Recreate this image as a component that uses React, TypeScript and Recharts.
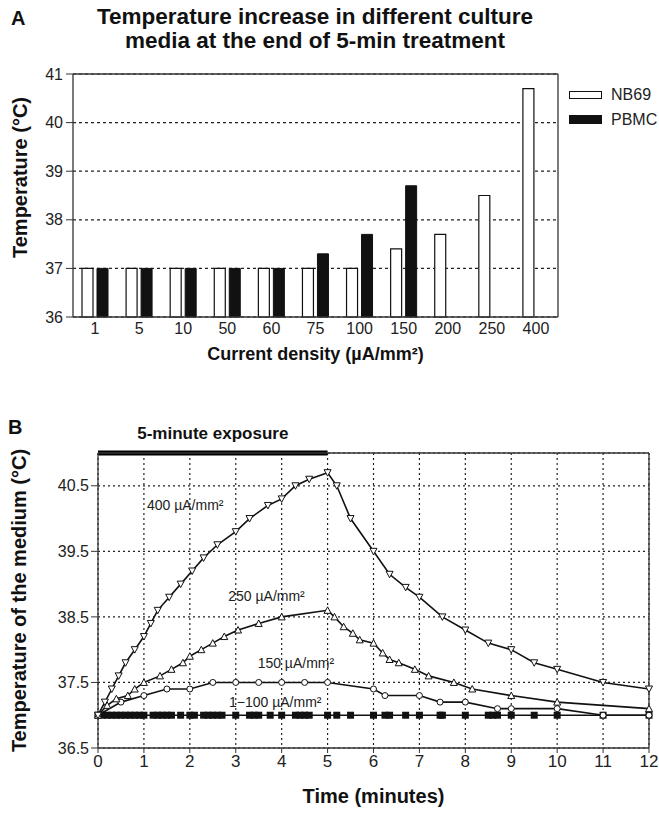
import React from "react";
import {
  BarChart,
  Bar,
  LineChart,
  Line,
  XAxis,
  YAxis,
  CartesianGrid,
  ReferenceLine,
  ReferenceDot,
  Legend,
  Label
} from "recharts";

const FONT = '"Liberation Sans", Arial, Helvetica, sans-serif';

// ---- panel A: temperature at the end of treatment ----
const densities = ["1", "5", "10", "50", "60", "75", "100", "150", "200", "250", "400"];
const nb69 = [37, 37, 37, 37, 37, 37, 37, 37.4, 37.7, 38.5, 40.7];
const pbmc = [37, 37, 37, 37, 37, 37.3, 37.7, 38.7, null, null, null];
const tempTicks = [36, 37, 38, 39, 40, 41];

// ---- panel B: temperature of the medium over time ----
const minutes = [0, 1, 2, 3, 4, 5, 6, 7, 8, 9, 10, 11, 12];
const mediumTicks = [36.5, 37.5, 38.5, 39.5, 40.5];

const time400 = [0, 0.15, 0.3, 0.45, 0.6, 0.8, 1.0, 1.15, 1.3, 1.55, 1.8, 2.05, 2.3, 2.6, 3.0, 3.3, 3.7, 4.0, 4.3, 4.6, 5.0, 5.2, 5.5, 6.0, 6.35, 6.7, 7.0, 7.5, 8.0, 8.5, 9.0, 9.5, 10.0, 11.0, 12.0];
const temp400 = [37.0, 37.2, 37.4, 37.6, 37.8, 38.0, 38.2, 38.4, 38.6, 38.8, 39.0, 39.2, 39.4, 39.6, 39.8, 40.0, 40.2, 40.3, 40.5, 40.6, 40.7, 40.5, 40.0, 39.5, 39.15, 38.95, 38.8, 38.5, 38.3, 38.1, 38.0, 37.8, 37.7, 37.5, 37.4];

const time250 = [0, 0.2, 0.4, 0.65, 0.8, 1.0, 1.35, 1.6, 1.85, 2.0, 2.25, 2.5, 2.75, 3.05, 3.5, 4.0, 5.0, 5.15, 5.35, 5.55, 5.7, 6.0, 6.2, 6.35, 6.55, 6.9, 7.2, 7.75, 8.15, 9.0, 10.0, 12.0];
const temp250 = [37.0, 37.15, 37.25, 37.3, 37.4, 37.5, 37.6, 37.7, 37.8, 37.9, 38.0, 38.1, 38.2, 38.3, 38.4, 38.5, 38.6, 38.5, 38.35, 38.25, 38.15, 38.1, 37.95, 37.85, 37.8, 37.7, 37.6, 37.5, 37.4, 37.3, 37.2, 37.1];

const time150 = [0, 0.5, 1.0, 1.5, 2.0, 2.5, 3.0, 3.5, 4.0, 4.5, 5.0, 6.0, 6.25, 7.0, 7.45, 8.0, 8.7, 9.0, 10.0, 11.0, 12.0];
const temp150 = [37.0, 37.2, 37.3, 37.4, 37.4, 37.5, 37.5, 37.5, 37.5, 37.5, 37.5, 37.4, 37.3, 37.3, 37.2, 37.2, 37.1, 37.1, 37.1, 37.0, 37.0];

const timeLow = [0, 0.1, 0.2, 0.3, 0.4, 0.5, 0.6, 0.7, 0.8, 0.9, 1.0, 1.2, 1.3, 1.4, 1.5, 1.6, 1.8, 2.0, 2.1, 2.3, 2.4, 2.5, 2.6, 2.7, 3.0, 3.3, 3.4, 3.5, 3.75, 4.0, 4.3, 4.4, 4.5, 4.6, 5.0, 5.2, 5.5, 6.0, 6.25, 6.35, 6.7, 7.0, 7.45, 7.5, 8.0, 8.5, 8.6, 8.7, 9.0, 9.5, 10.0, 11.0, 12.0];
const tempLow = [37, 37, 37, 37, 37, 37, 37, 37, 37, 37, 37, 37, 37, 37, 37, 37, 37, 37, 37, 37, 37, 37, 37, 37, 37, 37, 37, 37, 37, 37, 37, 37, 37, 37, 37, 37, 37, 37, 37, 37, 37, 37, 37, 37, 37, 37, 37, 37, 37, 37, 37, 37, 37];

const barData = densities.map((d, i) => ({ density: d, NB69: nb69[i], PBMC: pbmc[i] }));
const zip = (ts: number[], vs: number[]) => ts.map((t, i) => ({ t, v: vs[i] }));
const s400 = zip(time400, temp400);
const s250 = zip(time250, temp250);
const s150 = zip(time150, temp150);
const sLow = zip(timeLow, tempLow);

const INK = "#111";

const triDown = (p: any) => {
  const { cx, cy, index } = p;
  return (
    <path key={"d" + index} d={`M${cx - 3.5},${cy - 3} L${cx + 3.5},${cy - 3} L${cx},${cy + 3.5} Z`}
      fill="#fff" stroke={INK} strokeWidth={1} />
  );
};
const triUp = (p: any) => {
  const { cx, cy, index } = p;
  return (
    <path key={"u" + index} d={`M${cx - 3.5},${cy + 3} L${cx + 3.5},${cy + 3} L${cx},${cy - 3.5} Z`}
      fill="#fff" stroke={INK} strokeWidth={1} />
  );
};
const ring = (p: any) => (
  <circle key={"c" + p.index} cx={p.cx} cy={p.cy} r={3} fill="#fff" stroke={INK} strokeWidth={1} />
);
const square = (p: any) => (
  <rect key={"s" + p.index} x={p.cx - 3.5} y={p.cy - 3.5} width={7} height={7} fill={INK} />
);

const sideTitle = (text: string, x: number, dy: number, size: number) => (props: any) => {
  const vb = props.viewBox || { y: 0, height: 0 };
  const cy = vb.y + vb.height / 2 + dy;
  return (
    <text x={x} y={cy} transform={`rotate(-90, ${x}, ${cy})`} textAnchor="middle"
      dominantBaseline="central" fontSize={size} fontWeight="bold" fill={INK} fontFamily={FONT}>
      {text}
    </text>
  );
};

const legendBox: Record<string, number> = { NB69: 8, PBMC: 9 };

const renderLegend = (props: any) => (
  <div style={{ fontFamily: FONT, fontSize: 16, color: "#222", whiteSpace: "nowrap" }}>
    {(props.payload || []).map((e: any) => (
      <div key={e.value} style={{ display: "flex", alignItems: "center", height: 25 }}>
        <span style={{
          display: "inline-block", boxSizing: "border-box", width: 33, height: legendBox[e.value],
          background: e.value === "NB69" ? "#fff" : INK, border: "1px solid " + INK, marginRight: 9
        }} />
        {e.value}
      </div>
    ))}
  </div>
);

const seriesLabel = (text: string) => ({ value: text, position: "center" as const, fontSize: 14, fill: "#222", fontFamily: FONT });

export default function App() {
  return (
    <div style={{ position: "relative", width: 659, height: 813, overflow: "hidden", background: "#fff", fontFamily: FONT, color: INK }}>
      <style>{"body{margin:0}"}</style>
      <div style={{ position: "absolute", left: 11, top: 7, fontSize: 20, fontWeight: "bold" }}>A</div>
      <div style={{ position: "absolute", left: 40, top: 5, width: 550, textAlign: "center", fontSize: 22.5, lineHeight: "24px", fontWeight: "bold" }}>
        Temperature increase in different culture
        <br />
        media at the end of 5-min treatment
      </div>
      <div style={{ position: "absolute", left: 8, top: 416, fontSize: 20, fontWeight: "bold" }}>B</div>

      <div style={{ position: "absolute", left: 0, top: 0 }}>
        <BarChart width={659} height={370} data={barData} margin={{ top: 74, right: 95, bottom: 0, left: 0 }} barGap={4}>
          <CartesianGrid vertical={false} stroke="#222" strokeDasharray="3 3" strokeWidth={1.2} />
          <XAxis dataKey="density" height={53} tickLine={false} tickSize={4} axisLine={{ stroke: "#333", strokeWidth: 1.3 }}
            tick={{ fontSize: 16, fill: "#222", fontFamily: FONT }} interval={0}>
            <Label value="Current density (µA/mm²)" position="insideBottom" offset={10}
              style={{ fontWeight: "bold", fontSize: 18, fill: INK, fontFamily: FONT }} />
          </XAxis>
          <YAxis type="number" domain={[36, 41]} ticks={tempTicks} width={73} tickSize={7} tickMargin={3}
            axisLine={{ stroke: "#333", strokeWidth: 1.3 }} tickLine={{ stroke: "#333" }}
            tick={{ fontSize: 16, fill: "#222", fontFamily: FONT }}
            label={<Label content={sideTitle("Temperature (°C)", 20, -18, 20)} />} />
          <YAxis yAxisId="r" orientation="right" type="number" domain={[36, 41]} ticks={tempTicks} width={6} tickSize={4}
            tick={false} axisLine={{ stroke: "#333", strokeWidth: 1.3 }} tickLine={{ stroke: "#333" }} />
          <ReferenceLine y={41} stroke="#333" strokeWidth={1.3} />
          <Legend layout="horizontal" verticalAlign="middle" align="center" content={renderLegend}
            wrapperStyle={{ left: 569, top: 82, width: 90, height: 50 }} />
          <Bar dataKey="NB69" fill="#fff" stroke={INK} strokeWidth={1.2} barSize={11} isAnimationActive={false} />
          <Bar dataKey="PBMC" fill={INK} stroke={INK} strokeWidth={1} barSize={11} isAnimationActive={false} />
        </BarChart>
      </div>

      <div style={{ position: "absolute", left: 0, top: 380 }}>
        <LineChart width={659} height={433} margin={{ top: 69, right: 4, bottom: 0, left: 0 }}>
          <CartesianGrid stroke="#222" strokeDasharray="2 3" strokeWidth={1.2} />
          <XAxis dataKey="t" type="number" domain={[0, 12]} ticks={minutes} interval={0} height={65} tickSize={5}
            axisLine={{ stroke: "#333", strokeWidth: 1.3 }} tickLine={{ stroke: "#333" }}
            tick={{ fontSize: 17, fill: "#222", fontFamily: FONT }}>
            <Label value="Time (minutes)" position="insideBottom" offset={10}
              style={{ fontWeight: "bold", fontSize: 20, fill: INK, fontFamily: FONT }} />
          </XAxis>
          <XAxis xAxisId="top" orientation="top" type="number" domain={[0, 12]} ticks={minutes} height={4} tickSize={4}
            tick={false} axisLine={{ stroke: "#333", strokeWidth: 1.3 }} tickLine={{ stroke: "#333" }} />
          <YAxis type="number" domain={[36.5, 41]} ticks={mediumTicks} width={98} tickSize={7} tickMargin={2}
            axisLine={{ stroke: "#333", strokeWidth: 1.3 }} tickLine={{ stroke: "#333" }}
            tick={{ fontSize: 16, fill: "#222", fontFamily: FONT }} tickFormatter={(v: number) => v.toFixed(1)}
            label={<Label content={sideTitle("Temperature of the medium (°C)", 19, 0, 20)} />} />
          <YAxis yAxisId="r" orientation="right" type="number" domain={[36.5, 41]} ticks={mediumTicks} width={6} tickSize={4}
            tick={false} axisLine={{ stroke: "#333", strokeWidth: 1.3 }} tickLine={{ stroke: "#333" }} />
          <ReferenceLine segment={[{ x: 0, y: 41 }, { x: 5, y: 41 }]} stroke="#000" strokeWidth={5} ifOverflow="visible">
            <Label value="5-minute exposure" position="top" offset={14}
              style={{ fontWeight: "bold", fontSize: 17, fill: INK, fontFamily: FONT }} />
          </ReferenceLine>
          <Line data={sLow} dataKey="v" type="linear" stroke={INK} strokeWidth={1.6} dot={square} isAnimationActive={false} />
          <Line data={s150} dataKey="v" type="linear" stroke={INK} strokeWidth={1.6} dot={ring} isAnimationActive={false} />
          <Line data={s250} dataKey="v" type="linear" stroke={INK} strokeWidth={1.6} dot={triUp} isAnimationActive={false} />
          <Line data={s400} dataKey="v" type="linear" stroke={INK} strokeWidth={1.6} dot={triDown} isAnimationActive={false} />
          <ReferenceDot x={1.9} y={40.2} r={0} fill="none" stroke="none" label={seriesLabel("400 µA/mm²")} />
          <ReferenceDot x={3.67} y={38.82} r={0} fill="none" stroke="none" label={seriesLabel("250 µA/mm²")} />
          <ReferenceDot x={4.31} y={37.79} r={0} fill="none" stroke="none" label={seriesLabel("150 µA/mm²")} />
          <ReferenceDot x={3.86} y={37.2} r={0} fill="none" stroke="none" label={seriesLabel("1−100 µA/mm²")} />
        </LineChart>
      </div>
    </div>
  );
}
